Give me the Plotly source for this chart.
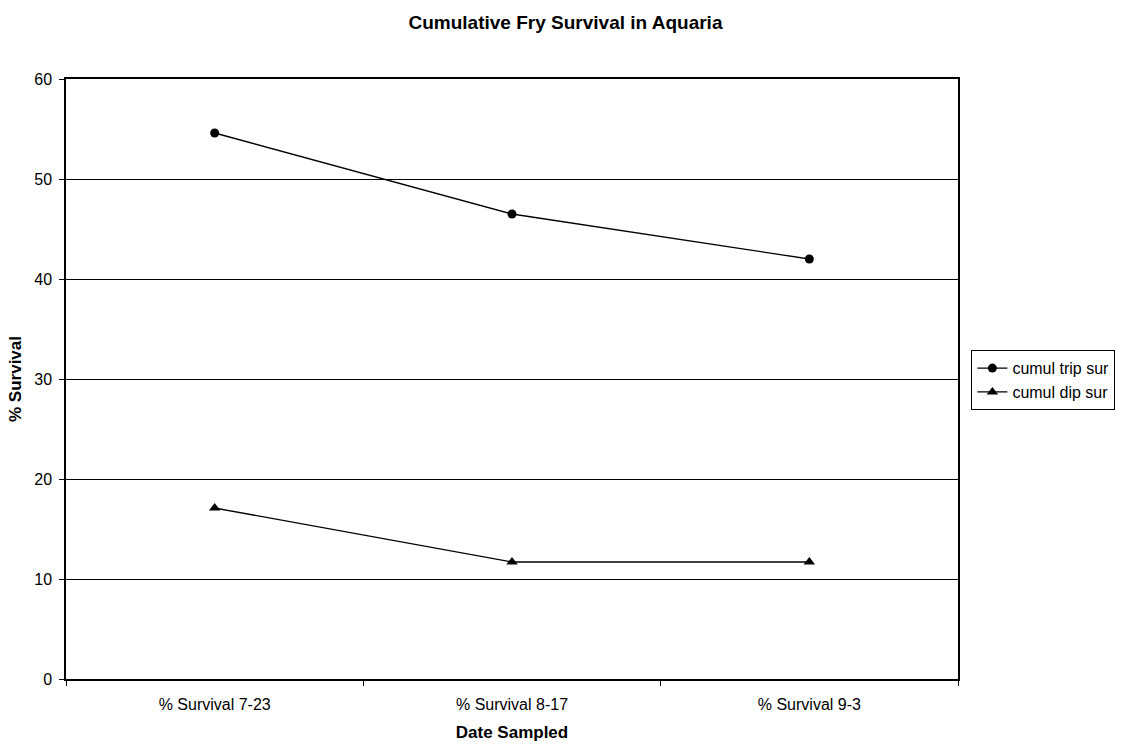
import plotly.graph_objects as go

dates = ["% Survival 7-23", "% Survival 8-17", "% Survival 9-3"]
trip_survival = [54.6, 46.5, 42.0]
dip_survival = [17.1, 11.7, 11.7]
y_ticks = [0, 10, 20, 30, 40, 50, 60]

fig = go.Figure()
fig.add_trace(go.Scatter(
    x=dates, y=trip_survival, name="cumul trip sur", mode="lines+markers",
    line=dict(color="black", width=1.3),
    marker=dict(symbol="circle", size=9, color="black"),
))
fig.add_trace(go.Scatter(
    x=dates, y=dip_survival, name="cumul dip sur", mode="lines+markers",
    line=dict(color="black", width=1.3),
    marker=dict(symbol="triangle-up", size=10, color="black"),
))

fig.update_layout(
    width=1131, height=747,
    margin=dict(l=66, r=173, t=79, b=68, autoexpand=False),
    paper_bgcolor="white", plot_bgcolor="white",
    font=dict(family="Arial, Liberation Sans, sans-serif", size=16, color="black"),
    title=dict(text="<b>Cumulative Fry Survival in Aquaria</b>", x=0.5, xanchor="center",
               y=1 - 22 / 747, yanchor="middle", font=dict(size=19)),
    xaxis=dict(
        type="category", range=[-0.5, 2.5], tickson="boundaries",
        ticks="outside", ticklen=5, tickcolor="black", showgrid=False,
        showline=True, linecolor="black", linewidth=1.5, mirror=True,
        ticklabelstandoff=10, automargin=False,
        title=dict(text="<b>Date Sampled</b>", standoff=14, font=dict(size=17)),
        tickfont=dict(size=16),
    ),
    yaxis=dict(
        range=[0, 60], tickvals=y_ticks, ticks="outside", ticklen=5, tickcolor="black",
        showgrid=True, gridcolor="black", gridwidth=1, zeroline=False,
        showline=True, linecolor="black", linewidth=1.5, mirror=True,
        ticklabelstandoff=4, automargin=False,
        title=dict(text="<b>% Survival</b>", standoff=8, font=dict(size=17)),
        tickfont=dict(size=16),
    ),
    legend=dict(
        x=1.015, xanchor="left", y=0.498, yanchor="middle",
        bordercolor="black", borderwidth=1, bgcolor="white",
        font=dict(size=16), tracegroupgap=0, itemwidth=30,
    ),
)

fig.write_html("out.html")
